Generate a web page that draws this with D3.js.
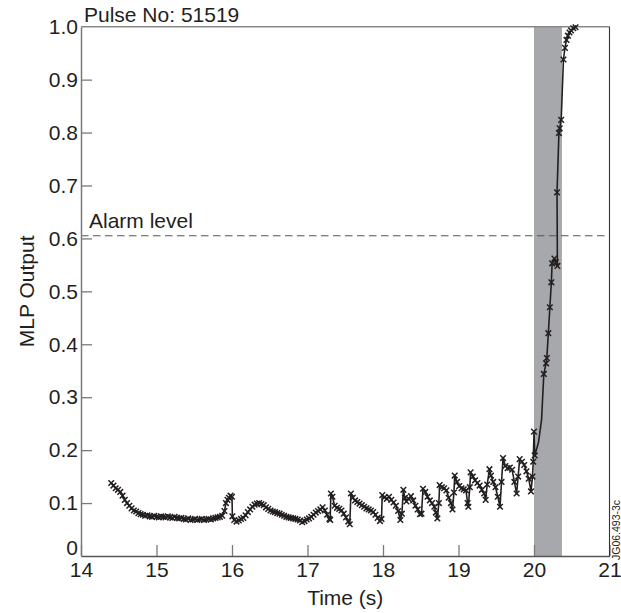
<!DOCTYPE html>
<html><head><meta charset="utf-8">
<script src="https://cdn.jsdelivr.net/npm/d3@7"></script>
<style>
html,body{margin:0;padding:0;background:#fff;}
svg{display:block;font-family:"Liberation Sans",Arial,Helvetica,sans-serif;}
</style></head>
<body>
<svg id="chart" width="621" height="613"></svg>
<script>
const xTicks = [14,15,16,17,18,19,20,21];
const yTicks = [0,0.1,0.2,0.3,0.4,0.5,0.6,0.7,0.8,0.9,1.0];
const yTickLabels = ["0","0.1","0.2","0.3","0.4","0.5","0.6","0.7","0.8","0.9","1.0"];
const alarmLevel = 0.605;
const band = [20.0, 20.37];
const title = "Pulse No: 51519";
const xTitle = "Time (s)";
const yTitle = "MLP Output";
const alarmText = "Alarm level";
const figId = "JG06.493-3c";

const times = [14.40,14.43,14.46,14.49,14.52,14.55,14.58,14.61,14.64,14.67,14.70,14.73,14.76,14.79,14.82,14.85,14.88,14.91,14.94,14.97,
15.00,15.03,15.06,15.09,15.12,15.15,15.18,15.21,15.24,15.27,15.30,15.33,15.36,15.39,15.42,15.45,15.48,15.51,15.54,15.57,
15.60,15.63,15.66,15.69,15.72,15.75,15.78,15.81,15.84,15.87,15.90,15.92,15.94,15.96,15.98,16.00,16.005,16.03,16.06,16.09,
16.12,16.15,16.18,16.21,16.24,16.27,16.30,16.33,16.36,16.39,16.42,16.45,16.48,16.51,16.54,16.57,16.60,16.63,16.66,16.69,
16.72,16.75,16.78,16.81,16.84,16.87,16.90,16.93,16.96,16.99,17.02,17.05,17.08,17.11,17.14,17.17,17.20,17.23,17.26,17.29,
17.30,17.31,17.33,17.36,17.39,17.42,17.45,17.48,17.51,17.54,17.56,17.575,17.60,17.63,17.66,17.69,17.72,17.75,17.78,17.81,
17.84,17.87,17.90,17.93,17.96,17.98,17.99,18.02,18.05,18.08,18.11,18.14,18.17,18.20,18.23,18.25,18.27,18.29,18.31,18.34,
18.37,18.40,18.43,18.46,18.49,18.51,18.53,18.56,18.59,18.62,18.65,18.68,18.70,18.72,18.74,18.75,18.78,18.81,18.84,18.87,
18.90,18.92,18.94,18.95,18.98,19.01,19.04,19.07,19.10,19.12,19.13,19.15,19.16,19.19,19.22,19.25,19.28,19.31,19.34,19.36,
19.38,19.41,19.43,19.46,19.49,19.52,19.55,19.57,19.59,19.62,19.65,19.68,19.71,19.74,19.77,19.79,19.81,19.84,19.87,19.90,
19.93,19.96,19.98,19.99,20.00,20.01,20.06,20.10,20.13,20.16,20.17,20.19,20.21,20.23,20.24,20.27,20.29,20.31,20.305,20.33,
20.34,20.36,20.39,20.41,20.43,20.45,20.47,20.49,20.52,20.55];
const mlpOutput = [0.138,0.133,0.128,0.125,0.121,0.114,0.106,0.100,0.095,0.090,0.086,0.084,0.081,0.079,0.078,0.076,0.077,0.075,0.074,0.076,
0.074,0.073,0.075,0.074,0.073,0.075,0.073,0.072,0.074,0.072,0.071,0.072,0.070,0.069,0.071,0.068,0.069,0.070,0.068,0.069,
0.070,0.068,0.069,0.070,0.069,0.071,0.072,0.073,0.074,0.076,0.085,0.100,0.106,0.110,0.114,0.112,0.075,0.068,0.065,0.067,
0.070,0.072,0.077,0.083,0.088,0.093,0.097,0.099,0.100,0.098,0.096,0.092,0.089,0.086,0.084,0.083,0.081,0.080,0.078,0.076,
0.074,0.073,0.072,0.071,0.070,0.069,0.067,0.064,0.066,0.069,0.071,0.074,0.078,0.082,0.085,0.088,0.092,0.086,0.078,0.070,
0.068,0.118,0.112,0.095,0.091,0.089,0.086,0.080,0.073,0.065,0.060,0.118,0.110,0.105,0.102,0.099,0.096,0.093,0.090,0.088,
0.086,0.083,0.078,0.072,0.066,0.070,0.115,0.111,0.108,0.112,0.106,0.101,0.095,0.085,0.068,0.080,0.125,0.110,0.103,0.108,
0.113,0.105,0.095,0.088,0.079,0.080,0.127,0.121,0.112,0.105,0.100,0.093,0.082,0.071,0.100,0.134,0.130,0.128,0.124,0.110,
0.100,0.088,0.120,0.152,0.140,0.132,0.128,0.126,0.124,0.100,0.093,0.130,0.158,0.150,0.143,0.138,0.133,0.125,0.118,0.106,
0.135,0.164,0.152,0.140,0.130,0.112,0.093,0.140,0.185,0.170,0.166,0.167,0.163,0.140,0.118,0.150,0.183,0.178,0.172,0.160,
0.146,0.122,0.150,0.178,0.235,0.190,0.215,0.257,0.344,0.364,0.374,0.421,0.470,0.517,0.553,0.562,0.555,0.548,0.687,0.799,
0.808,0.824,0.938,0.960,0.975,0.983,0.989,0.993,0.997,0.999];
const unmarkedTimes = [20.06, 20.10];

const svg = d3.select("#chart");
const W = 621, H = 613;
const m = {left:81, right:11.5, top:26.7, bottom:57};
const x = d3.scaleLinear().domain([14,21]).range([m.left, W - m.right]);
const y = d3.scaleLinear().domain([0,1]).range([H - m.bottom, m.top]);
const ink = "#231f20";
const axisGray = "#7a7a7a";
const fontSize = 21;

// gray band
svg.append("rect")
  .attr("x", x(band[0])).attr("y", y(1))
  .attr("width", x(band[1]) - x(band[0])).attr("height", y(0) - y(1))
  .attr("fill", "#a7a8ab");

// alarm line
svg.append("line")
  .attr("x1", x(14)).attr("x2", x(21))
  .attr("y1", y(alarmLevel)).attr("y2", y(alarmLevel))
  .attr("stroke", "#555").attr("stroke-width", 1.1)
  .attr("stroke-dasharray", "7.5,4.5");

// axes
const xAxis = d3.axisBottom(x).tickValues(xTicks).tickFormat(d3.format("d")).tickSizeInner(-11).tickSizeOuter(0).tickPadding(6);
const gx = svg.append("g").attr("transform", `translate(0,${y(0)})`).call(xAxis);
gx.select(".domain").attr("stroke", "#555").attr("stroke-width", 1.5);
gx.selectAll(".tick line").attr("stroke", axisGray).attr("stroke-width", 1.3);
gx.selectAll(".tick text").attr("font-size", fontSize).attr("fill", ink).attr("font-family", "Liberation Sans, Arial, sans-serif");

const yAxis = d3.axisLeft(y).tickValues(yTicks).tickFormat((d,i) => yTickLabels[i]).tickSizeInner(-11).tickSizeOuter(0).tickPadding(3);
const gy = svg.append("g").attr("transform", `translate(${x(14)},0)`).call(yAxis);
gy.select(".domain").attr("stroke", axisGray).attr("stroke-width", 1.5);
gy.selectAll(".tick line").attr("stroke", axisGray).attr("stroke-width", 1.3);
gy.selectAll(".tick text").attr("font-size", fontSize).attr("fill", ink).attr("font-family", "Liberation Sans, Arial, sans-serif");
gy.selectAll(".tick").filter(d => d === 0).select("text").attr("dy", "-0.08em");
gy.selectAll(".tick").filter(d => d === 0).select("line").remove();
gy.selectAll(".tick").filter(d => d === 1).select("line").remove();

// top and right border
svg.append("line").attr("x1", x(14)).attr("x2", x(21)).attr("y1", y(1)).attr("y2", y(1))
  .attr("stroke", "#888").attr("stroke-width", 1.5);
svg.append("line").attr("x1", x(21)).attr("x2", x(21)).attr("y1", y(1)).attr("y2", y(0))
  .attr("stroke", "#333").attr("stroke-width", 1.1);

// data
const data = times.map((t,i) => ({t, v: mlpOutput[i]}));
const line = d3.line().x(d => x(d.t)).y(d => y(d.v));
svg.append("path").datum(data).attr("d", line)
  .attr("fill", "none").attr("stroke", ink).attr("stroke-width", 1.6).attr("stroke-linejoin", "round");

const s = 2.8;
svg.append("g").selectAll("path.mk")
  .data(data.filter(d => !unmarkedTimes.includes(d.t)))
  .join("path").attr("class","mk")
  .attr("transform", d => `translate(${x(d.t)},${y(d.v)})`)
  .attr("d", `M${-s},${-s}L${s},${s}M${-s},${s}L${s},${-s}`)
  .attr("stroke", ink).attr("stroke-width", 1.5).attr("fill", "none");

// texts
svg.append("text").attr("x", 84).attr("y", 22).attr("font-size", fontSize).attr("fill", ink).text(title);
svg.append("text").attr("x", 89).attr("y", 228).attr("font-size", fontSize).attr("fill", ink).text(alarmText);
svg.append("text").attr("x", (x(14)+x(21))/2).attr("y", 605).attr("text-anchor","middle")
  .attr("font-size", fontSize).attr("fill", ink).text(xTitle);
svg.append("text").attr("transform", `translate(34,${(y(0)+y(1))/2}) rotate(-90)`).attr("text-anchor","middle")
  .attr("font-size", fontSize).attr("fill", ink).text(yTitle);
svg.append("text").attr("transform", `translate(620,560) rotate(-90)`).attr("text-anchor","start")
  .attr("font-size", 10.5).attr("fill", ink).text(figId);
</script>
</body></html>
